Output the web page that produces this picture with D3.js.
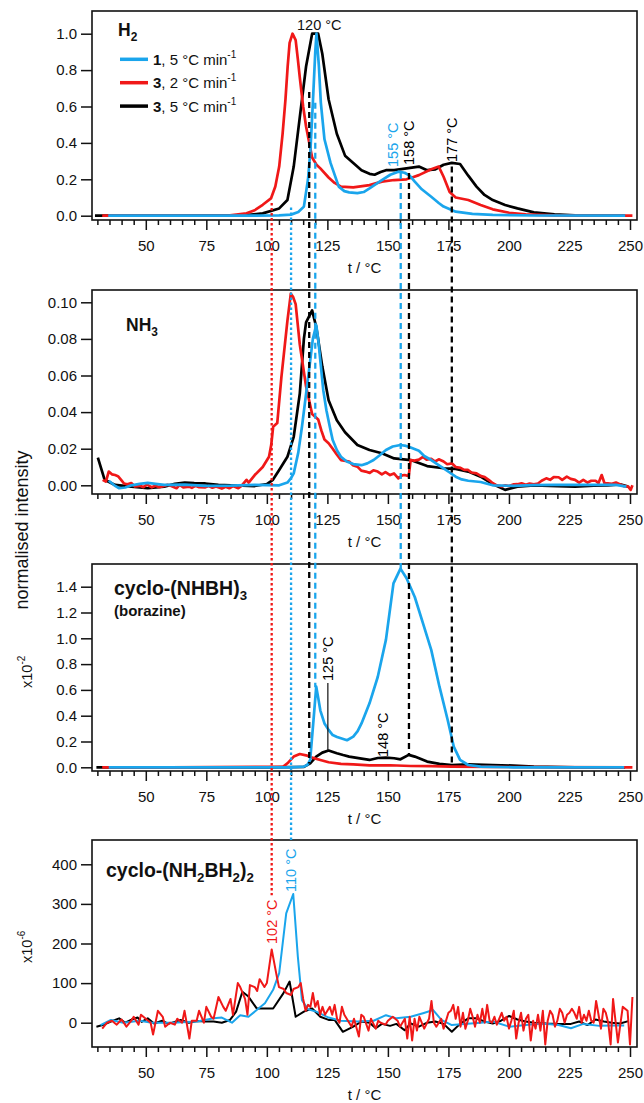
<!DOCTYPE html>
<html><head><meta charset="utf-8">
<script src="https://cdn.jsdelivr.net/npm/d3@7"></script>
<style>body{margin:0;background:#fff}svg{display:block}text{font-family:"Liberation Sans",Arial,sans-serif}</style>
</head><body><svg id="c" width="644" height="1103"></svg>
<script>
// ---------------- DATA ----------------
const BLUE = "#1aa5ec", RED = "#f01818", BLACK = "#000000";
const xMajorTicks = [50, 75, 100, 125, 150, 175, 200, 225, 250];
const yTicksH2 = [0, 0.2, 0.4, 0.6, 0.8, 1.0];
const yTicksNH3 = [0, 0.02, 0.04, 0.06, 0.08, 0.10];
const yTicksBor = [0, 0.2, 0.4, 0.6, 0.8, 1.0, 1.2, 1.4];
const yTicksCyc = [0, 100, 200, 300, 400];
const legendLabels = [["1", ", 5 °C min"], ["3", ", 2 °C min"], ["3", ", 5 °C min"]];

const h2Blue = [[34.5,0],[60,0],[90,0],[105,0.002],[110,0.006],[113,0.02],[115.3,0.05],[117,0.2],[118,0.36],[119,0.62],[120,0.9],[120.5,1.0],[121.5,0.82],[122.3,0.62],[123.8,0.42],[126.3,0.29],[129.7,0.16],[132,0.135],[134,0.128],[137.4,0.124],[140,0.13],[142.4,0.15],[147.5,0.196],[151,0.225],[154.3,0.242],[156.9,0.236],[159,0.22],[161.1,0.187],[164,0.145],[167.9,0.104],[171,0.07],[173,0.05],[178,0.022],[184.9,0.01],[193.3,0.004],[210,0.001],[248,0]];
const h2Red = [[32,0],[60,0],[84.8,0.002],[91.6,0.013],[95,0.03],[98.3,0.06],[101.7,0.095],[103.5,0.16],[105.1,0.27],[106.5,0.45],[107.7,0.64],[108.6,0.82],[109.4,0.95],[110.6,1.0],[111.9,0.965],[112.8,0.86],[113.6,0.76],[115,0.6],[116.2,0.49],[118.7,0.32],[120.5,0.28],[122.1,0.26],[125.5,0.21],[128,0.18],[130.6,0.16],[135.7,0.156],[142.4,0.168],[147.5,0.187],[152.6,0.196],[157.7,0.2],[160,0.21],[162.8,0.223],[167.9,0.255],[171,0.27],[173,0.214],[175.5,0.13],[178,0.1],[183.2,0.086],[188.3,0.059],[193.3,0.035],[200.1,0.016],[206.9,0.007],[218.8,0.002],[251,0]];
const h2Black = [[29,0],[60,0],[91.6,0.003],[98.3,0.013],[105.1,0.04],[108.5,0.086],[111.1,0.27],[113.6,0.54],[116.2,0.82],[118.7,1.0],[121.2,1.0],[122.9,0.89],[125.5,0.64],[128.9,0.45],[132.3,0.33],[135.7,0.29],[139.1,0.25],[142.4,0.23],[144.5,0.225],[147,0.24],[149.2,0.25],[152.6,0.25],[157.7,0.26],[162.8,0.27],[166.2,0.25],[169.6,0.255],[173,0.28],[176.4,0.29],[179.8,0.284],[183.2,0.22],[186.6,0.16],[189.9,0.114],[193.3,0.086],[198.4,0.059],[203.5,0.04],[210.3,0.018],[218.8,0.007],[227.3,0.002],[248,0]];

const nh3Black = [[30.2,0.0151],[33,0.003],[37.3,0.0002],[44.1,-0.0007],[50.8,-0.0016],[57.6,-0.0007],[62,0.0008],[66.1,0.0015],[70,0.0012],[74.6,0.001],[80,0.0003],[85,0],[90,-0.0002],[95,-0.0004],[100,0.0007],[102.5,0.003],[105.1,0.0084],[108.5,0.0156],[111.1,0.0265],[113.6,0.05],[115.3,0.08],[116.2,0.089],[118.7,0.0956],[120.4,0.0865],[122.9,0.065],[125.5,0.0465],[128.9,0.0356],[132.3,0.029],[137.4,0.022],[142.4,0.0193],[147.5,0.0175],[152.6,0.0147],[159.4,0.0138],[166.2,0.0105],[173,0.0093],[178,0.009],[183.2,0.0075],[188.3,0.0047],[193.3,0.0007],[198.4,-0.0025],[203.5,-0.0007],[210.3,0],[220,-0.0004],[227.3,-0.0007],[235,-0.0002],[240.8,0],[245.9,0.0005],[249.3,-0.0007]];
const nh3Red = [[32.2,0.003],[33.5,0.002],[34.7,0.0075],[36,0.006],[37.3,0.0056],[38.5,0.005],[39.8,0.003],[41,0.001],[42.4,0.0005],[44,0.0012],[45.5,-0.0006],[47.5,-0.0003],[49,-0.001],[50.5,0.0004],[52.5,-0.0011],[54,-0.0002],[55.5,-0.001],[57.6,-0.0003],[59,0.0003],[60.5,-0.0004],[62.7,-0.0016],[64,0.0002],[65.5,-0.0012],[67.8,-0.0007],[69,-0.0014],[70.5,-0.0003],[72,-0.001],[74.6,-0.0011],[76,-0.0004],[77.5,-0.0013],[79,-0.0006],[81.4,-0.0018],[83,-0.0008],[84.5,-0.0016],[86,-0.0004],[88.2,-0.0016],[89.5,-0.0003],[91.6,0.003],[92.5,0.0015],[95,0.0056],[98.3,0.01],[100.9,0.0156],[101.8,0.022],[102.6,0.032],[104.3,0.034],[106,0.059],[108.5,0.09],[109.9,0.1047],[110.8,0.103],[111.9,0.099],[113.6,0.077],[116.2,0.054],[118.7,0.039],[121.2,0.036],[122.5,0.03],[123.8,0.025],[125.5,0.023],[127.2,0.02],[128.8,0.017],[130.6,0.0138],[134,0.013],[135.5,0.011],[137.4,0.0102],[139,0.008],[140.8,0.0075],[142.5,0.0068],[144,0.0082],[145.8,0.0075],[147.5,0.006],[149,0.0072],[150.9,0.0056],[152.5,0.0065],[154.3,0.0038],[156,0.0055],[156.9,0.0056],[158.6,0.005],[159.4,0.0138],[161,0.0135],[162.8,0.014],[164.5,0.0155],[166,0.014],[167.9,0.0145],[169.5,0.013],[171,0.0142],[173,0.013],[174.5,0.0115],[176.4,0.012],[178,0.01],[180,0.0095],[181.5,0.0084],[183,0.0085],[184.5,0.007],[186.6,0.0065],[188.5,0.005],[190,0.0045],[191.6,0.003],[193,0.0015],[195,0],[197,-0.0006],[198.5,0],[200.1,-0.0004],[202,0.0005],[203.5,0.0006],[205.2,0.0011],[207,0.0003],[208.5,0.0009],[210.3,0.0005],[212,0.001],[213.5,0.0025],[215.4,0.0038],[217,0.003],[218.5,0.0045],[220.5,0.0044],[222,0.003],[223.9,0.0047],[225.5,0.0035],[227.3,0.003],[229,0.0015],[230.7,0.003],[232.5,0.0015],[234,0.0025],[235.8,0.0025],[237,0.0012],[238.3,0.0056],[239.5,0.001],[240.8,0.0011],[242.5,0.0008],[244.2,0.0015],[246,0.0005],[247.5,-0.0005],[249.3,-0.0007],[250.3,-0.0025],[251,0]];
const nh3Blue = [[34.7,0.0025],[37,0],[39,-0.0016],[41.5,-0.0012],[44.1,0],[47.5,0.0008],[50.8,0.0013],[54,0.0008],[57.6,0.0002],[66.1,0.0004],[74.6,-0.0003],[85,-0.0002],[95,0.0002],[105.1,0],[108.5,0.0015],[110,0.004],[111.1,0.0065],[113,0.018],[114.5,0.032],[116.2,0.05],[117.9,0.068],[119,0.08],[120.4,0.0875],[121.2,0.08],[122.1,0.068],[123.3,0.052],[124.6,0.041],[126,0.032],[127.2,0.0247],[129,0.019],[130.6,0.0156],[133,0.013],[135.7,0.0116],[139.1,0.011],[141.5,0.012],[144.1,0.0138],[146.5,0.0163],[149.2,0.0193],[152,0.0212],[155.2,0.022],[157.5,0.0215],[159.4,0.0207],[162.8,0.0189],[165,0.016],[167.9,0.0138],[170.5,0.0115],[173,0.0093],[175.5,0.007],[178,0.0047],[180.5,0.0032],[183.2,0.0025],[188.3,0.0018],[193.3,0],[201.8,-0.0003],[210,0.0001],[218.8,0.0002],[228,0.0002],[237.4,0.0002],[244.2,0.0002],[248.5,-0.0007]];

const borBlue = [[34.7,0],[60,0],[90,0],[110,0],[115.3,0.005],[116.8,0.02],[117.9,0.057],[119.2,0.35],[120.4,0.625],[121.2,0.54],[122.1,0.44],[123.8,0.34],[125.5,0.29],[127.2,0.25],[129,0.235],[130.6,0.225],[133.1,0.21],[135.7,0.238],[137.5,0.28],[139.1,0.34],[142.4,0.496],[145.8,0.70],[149.2,0.99],[152.3,1.426],[155.2,1.54],[157.7,1.465],[161.1,1.32],[164.5,1.116],[167.9,0.91],[171.3,0.625],[174.7,0.367],[177.2,0.16],[179.8,0.057],[183.2,0.018],[188.3,0.005],[201.8,0],[247.6,0]];
const borBlack = [[29.6,0],[60,0],[100,0],[115.3,0.003],[117.9,0.031],[120.4,0.083],[122.9,0.114],[125.5,0.13],[128.9,0.109],[131.5,0.095],[134,0.083],[139.1,0.067],[142.4,0.057],[145.8,0.072],[149.2,0.075],[152.6,0.07],[155.2,0.062],[158.6,0.096],[161.1,0.083],[166.2,0.044],[171.3,0.026],[176.4,0.018],[183.2,0.023],[193.3,0.018],[201.8,0.013],[210.3,0.005],[227.3,0],[248,0]];
const borRed = [[32,0],[60,0],[106.8,0.005],[108.5,0.031],[111.1,0.083],[113.6,0.103],[116.2,0.093],[118.7,0.075],[122.1,0.057],[125.5,0.039],[130.6,0.026],[135.7,0.023],[142.4,0.015],[150.9,0.016],[159.4,0.01],[167.9,0.009],[176.4,0.006],[193.3,0.003],[210,0.001],[251,0]];

const cycBlack = [[29.6,-10],[32.2,-6],[35.6,3],[39,11],[41.5,0],[44.1,8],[46.6,13],[48.3,2],[50.8,11],[53.4,-2],[56.8,5],[59.3,-3],[61.9,2],[64.4,7],[67.8,0],[71.2,4],[74.6,3],[78,3],[81.4,0],[84.8,7],[87.3,28],[89.9,78],[92.4,66],[95.8,36],[99.2,36],[102.6,36],[106.8,74],[109.4,104],[111.9,15],[115.3,28],[118.7,36],[122.1,15],[125.5,7],[128,7],[131.4,-23],[135.7,-10],[139.1,3],[142.4,0],[145,-14],[147.5,-3],[150.9,-8],[153.5,-3],[156.9,-19],[159.4,-2],[162.8,-10],[166.2,0],[169.6,3],[173,-3],[176.4,-23],[179.8,-3],[183.2,11],[186.6,11],[189.9,3],[193.3,-2],[196.7,5],[200.1,17],[203.5,8],[206.9,3],[210.3,0],[215.4,-2],[220.5,-3],[225.6,-3],[229,3],[232.4,-6],[235.8,8],[239.2,3],[242.5,0],[245.9,-2],[249.3,4]];
const cycBlue = [[31.3,-6],[35.6,7],[40.7,0],[47.5,5],[52.5,0],[61,0],[71.2,3],[78,11],[81.4,13],[85.6,0],[89,19],[92.4,15],[95.8,32],[99.2,49],[102.6,83],[105.1,125],[108,276],[110.9,325],[112.8,167],[114.5,57],[117,34],[120.4,28],[125.5,13],[130.6,5],[137.4,3],[144.1,5],[149.2,19],[153.5,11],[159.4,15],[164.5,24],[168.7,32],[172.1,7],[176.4,-6],[181.5,-3],[188.3,0],[193.3,3],[200.1,-10],[206.9,-6],[213.7,-2],[220.5,-6],[225.6,-14],[230.7,-3],[237.4,-8],[242.5,-7],[247.6,-7]];
const cycRed = [[32,-15],[34,0],[36,5],[38,-5],[40,8],[42,-10],[44,5],[45,15],[47,-5],[48,20],[50,10],[52,0],[53,-30],[55,30],[57,15],[58,-10],[60,0],[62,-5],[63,10],[65,0],[66,30],[68,-40],[69,5],[71,5],[72,30],[74,0],[75,40],[77,15],[78,10],[80,65],[82,40],[83,30],[85,60],[86,20],[88,100],[89,90],[91,60],[92,20],[93,95],[95,90],[96,80],[97,110],[99,90],[100,100],[102,185],[104,120],[105,90],[107,85],[108,75],[110,70],[111,85],[113,90],[114,100],[115,60],[116,30],[117,45],[118,40],[119,75],[120,40],[121,55],[122,20],[123,40],[124,20],[125,30],[126,40],[127,20],[128,45],[129,10],[130,0],[131,40],[132,20],[134,0],[135,-10],[136,10],[138,-35],[139,20],[140,15],[142,-20],[143,10],[145,-15],[146,5],[147,0],[149,-5],[150,5],[152,15],[154,5],[155,-10],[157,10],[158,-40],[159,15],[160,-45],[161,10],[162,-20],[163,15],[165,-15],[167,10],[168,55],[169,0],[170,-10],[172,10],[173,-15],[175,25],[176,30],[177,45],[178,10],[179,40],[180,-10],[181,25],[182,-15],[183,5],[184,35],[185,15],[186,-10],[187,20],[188,0],[189,35],[190,0],[191,45],[192,5],[193,0],[194,15],[195,-5],[196,10],[197,25],[198,5],[199,15],[200,-15],[201,5],[202,30],[203,-40],[204,0],[205,25],[206,-20],[207,10],[208,20],[209,-45],[210,5],[211,-15],[212,20],[213,-20],[214,30],[215,-55],[216,5],[217,30],[218,20],[219,-10],[220,5],[221,35],[222,25],[223,0],[224,20],[225,25],[226,35],[227,25],[228,10],[229,40],[230,0],[231,20],[232,5],[233,30],[234,5],[235,0],[236,55],[237,20],[238,-15],[239,35],[240,25],[241,0],[242,-55],[243,60],[244,5],[245,-50],[247,40],[249,30],[250,-55],[251,65]];

// reference lines: temperature, colour, style, [panel, value] start, [panel, value] end
const refT = [102, 110, 117.5, 120, 155.3, 158.7, 176.4];
const refColor = [RED, BLUE, BLACK, BLUE, BLUE, BLACK, BLACK];
const refStyle = ["dot", "dot", "dash", "dash", "dash", "dash", "dash"];
const refFrom = [[0,0.07],[0,0.045],[0,0.68],[0,0.62],[0,0.235],[0,0.235],[0,0.27]];
const refTo = [[3,322],[3,455],[2,0.03],[2,0.62],[2,1.52],[2,0.09],[2,0.03]];

// ---------------- DRAW ----------------
const svg = d3.select("#c");
const L = 92, R = 637;
const x = d3.scaleLinear().domain([50, 250]).range([145.8, 630]);
const panels = [
  {top: 11, bottom: 220, y: d3.scaleLinear().domain([0, 1]).range([215.7, 33.7]), ticks: yTicksH2, fmt: d3.format(".1f"),
   series: [[h2Black, BLACK], [h2Red, RED], [h2Blue, BLUE]], lw: 2.7},
  {top: 290, bottom: 494, y: d3.scaleLinear().domain([0, 0.1]).range([485.3, 302.3]), ticks: yTicksNH3, fmt: d3.format(".2f"),
   series: [[nh3Black, BLACK], [nh3Red, RED], [nh3Blue, BLUE]], lw: 2.7},
  {top: 564, bottom: 771, y: d3.scaleLinear().domain([0, 1.4]).range([767.3, 586.7]), ticks: yTicksBor, fmt: d3.format(".1f"),
   series: [[borBlack, BLACK], [borRed, RED], [borBlue, BLUE]], lw: 2.7},
  {top: 840, bottom: 1047, y: d3.scaleLinear().domain([0, 400]).range([1022.7, 864.3]), ticks: yTicksCyc, fmt: d3.format("d"),
   series: [[cycBlack, BLACK], [cycBlue, BLUE], [cycRed, RED]], lw: 2}
];

const minorTicks = d3.range(30, 251, 5).filter(v => v % 25 !== 0);

panels.forEach(p => {
  const g = svg.append("g");
  p.series.forEach(([data, col]) => {
    g.append("path").datum(data)
      .attr("fill", "none").attr("stroke", col).attr("stroke-width", p.lw)
      .attr("stroke-linejoin", "round")
      .attr("d", d3.line().x(d => x(d[0])).y(d => p.y(d[1])));
  });
  g.append("rect").attr("x", L).attr("y", p.top).attr("width", R - L).attr("height", p.bottom - p.top)
    .attr("fill", "none").attr("stroke", "#111").attr("stroke-width", 1.6);
  const ya = g.append("g").attr("transform", `translate(${L},0)`)
    .call(d3.axisLeft(p.y).tickValues(p.ticks).tickFormat(p.fmt).tickSize(11).tickPadding(4).tickSizeOuter(0));
  ya.select(".domain").remove();
  const xm = g.append("g").attr("transform", `translate(0,${p.bottom})`)
    .call(d3.axisBottom(x).tickValues(minorTicks).tickSize(5).tickFormat(""));
  xm.select(".domain").remove();
  const xa = g.append("g").attr("transform", `translate(0,${p.bottom})`)
    .call(d3.axisBottom(x).tickValues(xMajorTicks).tickSize(10).tickPadding(10).tickFormat(d3.format("d")));
  xa.select(".domain").remove();
  g.selectAll(".tick line").attr("stroke", "#111").attr("stroke-width", 1.5);
  g.selectAll(".tick text").attr("font-size", 15).attr("fill", "#111")
    .attr("font-family", '"Liberation Sans",Arial,sans-serif');
  g.append("text").attr("x", (L + R) / 2).attr("y", p.bottom + 53).attr("text-anchor", "middle")
    .attr("font-size", 15).attr("fill", "#111").text("t / °C");
});

// reference lines
refT.forEach((t, i) => {
  const y1 = panels[refFrom[i][0]].y(refFrom[i][1]);
  const y2 = panels[refTo[i][0]].y(refTo[i][1]);
  svg.append("line").attr("x1", x(t)).attr("x2", x(t)).attr("y1", y1).attr("y2", y2)
    .attr("stroke", refColor[i]).attr("stroke-width", 2.3)
    .attr("stroke-dasharray", refStyle[i] === "dot" ? "2.5,2.5" : "6,4");
});

function rotText(px, py, str, col, size) {
  return svg.append("text").attr("transform", `translate(${px},${py}) rotate(-90)`)
    .attr("font-size", size || 14.5).attr("fill", col || "#111").text(str);
}
// P1 annotations
svg.append("text").attr("x", 297).attr("y", 30).attr("font-size", 14.5).attr("fill", "#111").text("120 °C");
rotText(x(155.3) - 3, 167, "155 °C", BLUE);
rotText(x(158.7) + 5, 165, "158 °C", BLACK);
rotText(x(176.4) + 5, 162, "177 °C", BLACK);
// P3 annotations
rotText(x(125.2) + 5, 681, "125 °C", BLACK);
svg.append("line").attr("x1", x(125.2)).attr("x2", x(125.2))
  .attr("y1", 683).attr("y2", panels[2].y(0.13)).attr("stroke", "#111").attr("stroke-width", 1.2);
rotText(x(148) + 5, 757, "148 °C", BLACK);
// P4 annotations
rotText(x(102) + 5, 944, "102 °C", RED);
rotText(x(110) + 5, 892, "110 °C", BLUE);

// panel titles (subscripts via dy)
function title(px, py, parts, size) {
  const t = svg.append("text").attr("x", px).attr("y", py).attr("font-size", size)
    .attr("font-weight", "bold").attr("fill", "#111");
  let shifted = false;
  parts.forEach(([s, sub]) => {
    const ts = t.append("tspan").text(s);
    if (sub && !shifted) { ts.attr("dy", 5).attr("font-size", size * 0.68); shifted = true; }
    else if (sub) { ts.attr("font-size", size * 0.68); }
    else if (shifted) { ts.attr("dy", -5); shifted = false; }
  });
  return t;
}
title(118, 36, [["H"], ["2", 1]], 17.5);
title(126, 331, [["NH"], ["3", 1]], 17.5);
title(114, 595, [["cyclo-(NHBH)"], ["3", 1]], 19.5);
svg.append("text").attr("x", 114).attr("y", 616).attr("font-size", 15).attr("font-weight", "bold")
  .attr("fill", "#111").text("(borazine)");
title(106, 877, [["cyclo-(NH"], ["2", 1], ["BH"], ["2", 1], [")"], ["2", 1]], 19.5);

// legend
const legCols = [BLUE, RED, BLACK];
legendLabels.forEach((lab, i) => {
  const ly = 59.3 + i * 23.4;
  svg.append("line").attr("x1", 120).attr("x2", 148).attr("y1", ly).attr("y2", ly)
    .attr("stroke", legCols[i]).attr("stroke-width", 3.5);
  const t = svg.append("text").attr("x", 153).attr("y", ly + 5.5).attr("font-size", 15).attr("fill", "#111");
  t.append("tspan").attr("font-weight", "bold").text(lab[0]);
  t.append("tspan").text(lab[1]);
  t.append("tspan").attr("dy", -7).attr("font-size", 10).text("-1");
});

// y-axis titles
svg.append("text").attr("transform", "translate(28,530) rotate(-90)").attr("text-anchor", "middle")
  .attr("font-size", 18).attr("fill", "#111").text("normalised intensity");
function xTen(px, py, exp) {
  const t = svg.append("text").attr("transform", `translate(${px},${py}) rotate(-90)`)
    .attr("font-size", 14.5).attr("fill", "#111");
  t.append("tspan").text("x10");
  t.append("tspan").attr("dy", -7).attr("font-size", 10).text(exp);
}
xTen(32, 688, "-2");
xTen(32, 963, "-6");
</script></body></html>
